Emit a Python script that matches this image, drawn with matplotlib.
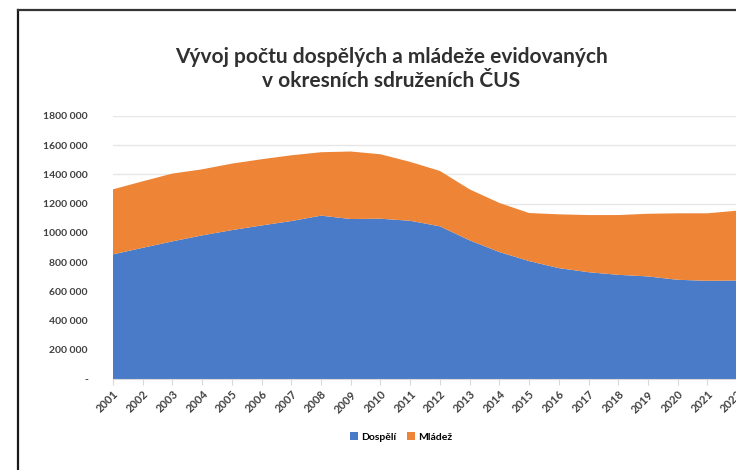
import matplotlib
matplotlib.use("Agg")
import matplotlib.pyplot as plt
from matplotlib.lines import Line2D
from matplotlib.patches import Patch
import numpy as np

years = list(range(2001, 2023))
dospeli = [853000, 898000, 942000, 983000, 1019000, 1051000, 1081000, 1118000,
           1095000, 1097000, 1083000, 1045000, 949000, 869000, 807000, 759000,
           731000, 713000, 702000, 679000, 672000, 674000]
celkem = [1298000, 1353000, 1406000, 1435000, 1474000, 1504000, 1531000, 1552000,
          1557000, 1538000, 1486000, 1424000, 1298000, 1205000, 1136000, 1127000,
          1122000, 1122000, 1131000, 1134000, 1134000, 1152000]
mladez = [c - d for c, d in zip(celkem, dospeli)]
yticks = [0, 200000, 400000, 600000, 800000, 1000000, 1200000, 1400000, 1600000, 1800000]
series_names = ["Dospělí", "Mládež"]
colors = ["#4A7BC9", "#ED8436"]

plt.rcParams['font.family'] = ['Lato', 'DejaVu Sans']

fig = plt.figure(figsize=(7.36, 4.70), dpi=100)
ax = fig.add_axes([0.1535, 0.1936, 0.848, 0.5596])

ax.stackplot(years, dospeli, mladez, colors=colors, linewidth=0, zorder=2)

ax.set_xlim(2001, 2022)
ax.set_ylim(0, 1800000)
ax.set_yticks(yticks)

def fmt(v):
    if v == 0:
        return "-"
    s = f"{v:,}".replace(",", " ")
    # first separator looks squeezed in the original
    parts = s.split(" ")
    return "".join(parts[:-1]) + " " + parts[-1]

ax.set_yticklabels([fmt(v) for v in yticks], fontsize=7.5, fontweight="bold", color="#404040")
ax.set_xticks(years)
ax.set_xticklabels([str(y) for y in years], rotation=45, ha="right", va="top",
                   rotation_mode="anchor", fontsize=8, fontweight="bold", color="#404040")
ax.tick_params(axis="y", length=0, pad=18)
ax.tick_params(axis="x", length=4, color="#d9d9d9", pad=3)
ax.grid(axis="y", color="#e6e6e6", linewidth=1, zorder=0)
ax.set_axisbelow(True)
for side in ["top", "right", "left"]:
    ax.spines[side].set_visible(False)
ax.spines["bottom"].set_color("#d9d9d9")
ax.spines["bottom"].set_zorder(3)

fig.text(0.532, 0.853, "Vývoj počtu dospělých a mládeže evidovaných\nv okresních sdruženích ČUS",
         ha="center", va="center", fontsize=15, fontweight="bold", color="#303030",
         linespacing=1.2)

handles = [Patch(facecolor=c, edgecolor="none") for c in colors]
fig.legend(handles, series_names, loc="center", bbox_to_anchor=(0.545, 0.07),
           ncol=2, frameon=False, handlelength=0.8, handleheight=0.8,
           handletextpad=0.3, columnspacing=1.0, prop={"weight": "bold", "size": 7.5})

# chart border (cropped screenshot)
fig.add_artist(Line2D([0.025, 0.025], [0.0, 0.979], transform=fig.transFigure,
                      color="#1a1a1a", linewidth=1.6))
fig.add_artist(Line2D([0.025, 1.0], [0.979, 0.979], transform=fig.transFigure,
                      color="#333333", linewidth=1.6))

fig.savefig("out.png", dpi=100)
